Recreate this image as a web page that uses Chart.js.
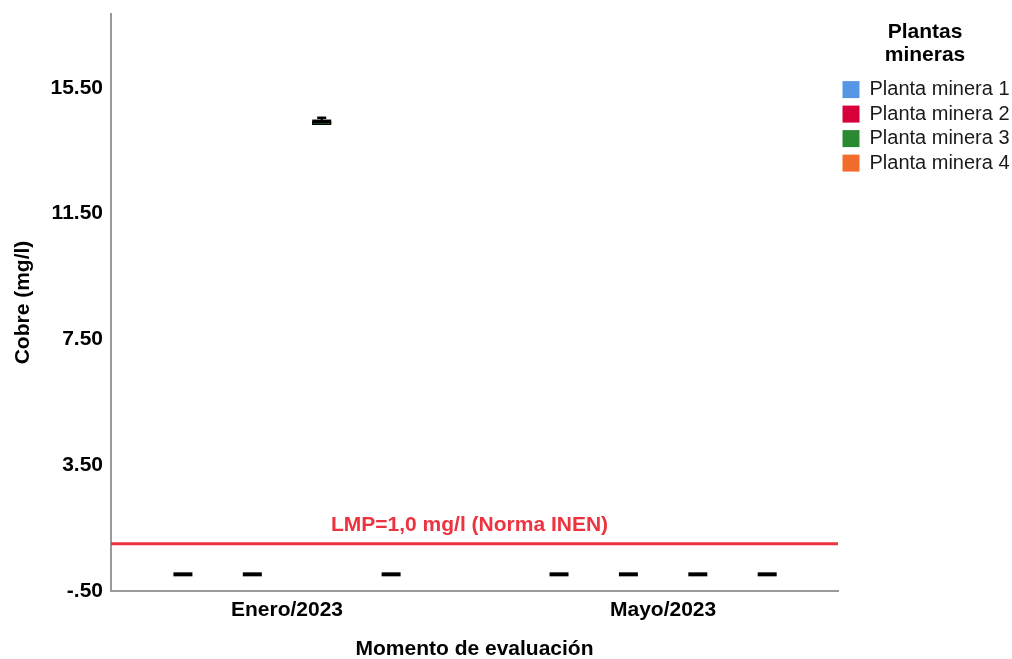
<!DOCTYPE html>
<html>
<head>
<meta charset="utf-8">
<script src="https://cdn.jsdelivr.net/npm/chart.js@4.4.0/dist/chart.umd.min.js"></script>
<style>
  html, body { margin: 0; padding: 0; background: #ffffff; }
  #wrap { width: 1012px; height: 659px; position: relative; }
</style>
</head>
<body>
<div id="wrap"><canvas id="chart"></canvas></div>
<script>
// Evaluation moments (x categories) and mining plants (series)
const moments = ['Enero/2023', 'Mayo/2023'];
const plants = ['Planta minera 1', 'Planta minera 2', 'Planta minera 3', 'Planta minera 4'];
const plantColors = ['#5597e5', '#d7003b', '#2a8a31', '#f26d2b'];

// Copper (mg/l) box statistics per plant: [Enero/2023, Mayo/2023]
const cuMin    = [[0.03, 0.03], [0.03, 0.03], [14.33, 0.03], [0.03, 0.03]];
const cuQ1     = [[0.03, 0.03], [0.03, 0.03], [14.33, 0.03], [0.03, 0.03]];
const cuMedian = [[0.03, 0.03], [0.03, 0.03], [14.43, 0.03], [0.03, 0.03]];
const cuQ3     = [[0.03, 0.03], [0.03, 0.03], [14.43, 0.03], [0.03, 0.03]];
const cuMax    = [[0.03, 0.03], [0.03, 0.03], [14.55, 0.03], [0.03, 0.03]];

// Value axis ticks
const yTicks = [-0.5, 3.5, 7.5, 11.5, 15.5];
const yMin = -0.5;
const yMax = 17.85;

// Maximum permissible limit
const limitValue = 1.0;
const limitLabel = 'LMP=1,0 mg/l (Norma INEN)';

const FONT = '"Liberation Sans", Arial, sans-serif';
const RED = '#ee3340';
const AXIS_GREY = '#9a9a9a';

// Horizontal extent of the category axis and side-by-side spacing of plants
const xMin = -0.468;
const xMax = 1.465;
const dodge = 0.1845;
const posX = (plantIdx, momentIdx) => momentIdx + (plantIdx - 1.5) * dodge;

const boxSets = [], whiskerSets = [], capSets = [], medianSets = [];
plants.forEach((name, i) => {
  boxSets.push({
    type: 'bar',
    label: name,
    data: moments.map((m, j) => ({ x: posX(i, j), y: [cuQ1[i][j], cuQ3[i][j]] })),
    backgroundColor: plantColors[i],
    borderColor: '#000',
    borderWidth: 1,
    borderSkipped: false,
    barThickness: 19,
    grouped: false,
    order: 3
  });
  const wh = [];
  moments.forEach((m, j) => {
    wh.push({ x: posX(i, j), y: [cuQ3[i][j], cuMax[i][j]] });
    wh.push({ x: posX(i, j), y: [cuMin[i][j], cuQ1[i][j]] });
  });
  whiskerSets.push({
    type: 'bar',
    label: name + ' bigotes',
    data: wh,
    backgroundColor: '#000',
    borderWidth: 0,
    barThickness: 1.5,
    grouped: false,
    order: 4
  });
  const caps = [];
  moments.forEach((m, j) => {
    if (cuMax[i][j] > cuQ3[i][j]) caps.push({ x: posX(i, j), y: cuMax[i][j] });
    if (cuMin[i][j] < cuQ1[i][j]) caps.push({ x: posX(i, j), y: cuMin[i][j] });
  });
  capSets.push({
    type: 'scatter',
    label: name + ' extremos',
    data: caps,
    pointStyle: 'line',
    pointRadius: 4.5,
    pointBorderWidth: 2.5,
    borderColor: '#000',
    backgroundColor: '#000',
    order: 2
  });
  medianSets.push({
    type: 'scatter',
    label: name + ' mediana',
    data: moments.map((m, j) => ({ x: posX(i, j), y: cuMedian[i][j] })),
    pointStyle: 'line',
    pointRadius: 9.5,
    pointBorderWidth: 4,
    borderColor: '#000',
    backgroundColor: '#000',
    order: 1
  });
});

const limitSet = {
  type: 'line',
  label: 'LMP',
  data: [{ x: xMin, y: limitValue }, { x: xMax, y: limitValue }],
  borderColor: RED,
  borderWidth: 3,
  pointRadius: 0,
  order: 0
};

// Text above the limit line
const limitLabelPlugin = {
  id: 'limitLabel',
  afterDatasetsDraw(chart) {
    const { ctx, chartArea, scales } = chart;
    const py = scales.y.getPixelForValue(limitValue);
    ctx.save();
    ctx.font = 'bold 21px ' + FONT;
    ctx.fillStyle = RED;
    ctx.textAlign = 'center';
    ctx.textBaseline = 'alphabetic';
    ctx.fillText(limitLabel, (chartArea.left + chartArea.right) / 2 - 5, py - 13);
    ctx.restore();
  }
};

const fmtTick = v => {
  const s = Number(v).toFixed(2);
  return s.replace(/^(-?)0\./, '$1.');
};

new Chart(document.getElementById('chart'), {
  type: 'bar',
  data: { datasets: [...boxSets, ...whiskerSets, ...capSets, ...medianSets, limitSet] },
  plugins: [limitLabelPlugin],
  options: {
    responsive: true,
    maintainAspectRatio: false,
    animation: false,
    layout: { padding: { top: 14, left: 9, right: 0, bottom: 0 } },
    plugins: {
      tooltip: { enabled: false },
      legend: {
        position: 'right',
        align: 'start',
        maxWidth: 174,
        title: {
          display: true,
          text: ['Plantas', 'mineras'],
          color: '#000',
          font: { family: FONT, size: 21, weight: 'bold', lineHeight: 1.1 },
          padding: { top: 8, bottom: 30 }
        },
        labels: {
          font: { family: FONT, size: 20 },
          color: '#1a1a1a',
          boxWidth: 17,
          boxHeight: 17,
          padding: 4.5,
          generateLabels: () => plants.map((p, i) => ({
            text: p,
            fillStyle: plantColors[i],
            strokeStyle: plantColors[i],
            lineWidth: 0,
            hidden: false,
            datasetIndex: i,
            fontColor: '#1a1a1a'
          }))
        }
      }
    },
    scales: {
      x: {
        type: 'linear',
        min: xMin,
        max: xMax,
        offset: false,
        grid: { display: false, drawTicks: false, tickLength: 0 },
        border: { display: true, color: AXIS_GREY, width: 2 },
        afterBuildTicks: s => { s.ticks = moments.map((m, j) => ({ value: j })); },
        afterFit: s => { s.height = 68; s.paddingLeft = 0; s.paddingRight = 0; },
        ticks: {
          padding: 7,
          color: '#000',
          font: { family: FONT, size: 21, weight: 'bold' },
          callback: v => moments[Math.round(v)]
        },
        title: {
          display: true,
          text: 'Momento de evaluación',
          color: '#000',
          font: { family: FONT, size: 21, weight: 'bold', lineHeight: 0.9 },
          padding: { top: 4, bottom: 0 }
        }
      },
      y: {
        type: 'linear',
        min: yMin,
        max: yMax,
        beginAtZero: false,
        grid: { display: false, drawTicks: false, tickLength: 0 },
        border: { display: true, color: AXIS_GREY, width: 2 },
        afterBuildTicks: s => { s.ticks = yTicks.map(v => ({ value: v })); },
        afterFit: s => { s.width = 102; s.paddingTop = 0; s.paddingBottom = 0; },
        ticks: {
          padding: 8,
          color: '#000',
          font: { family: FONT, size: 21, weight: 'bold' },
          callback: v => fmtTick(v)
        },
        title: {
          display: true,
          text: 'Cobre (mg/l)',
          color: '#000',
          font: { family: FONT, size: 21, weight: 'bold' },
          padding: { top: 2, bottom: 4 }
        }
      }
    }
  }
});
</script>
</body>
</html>
